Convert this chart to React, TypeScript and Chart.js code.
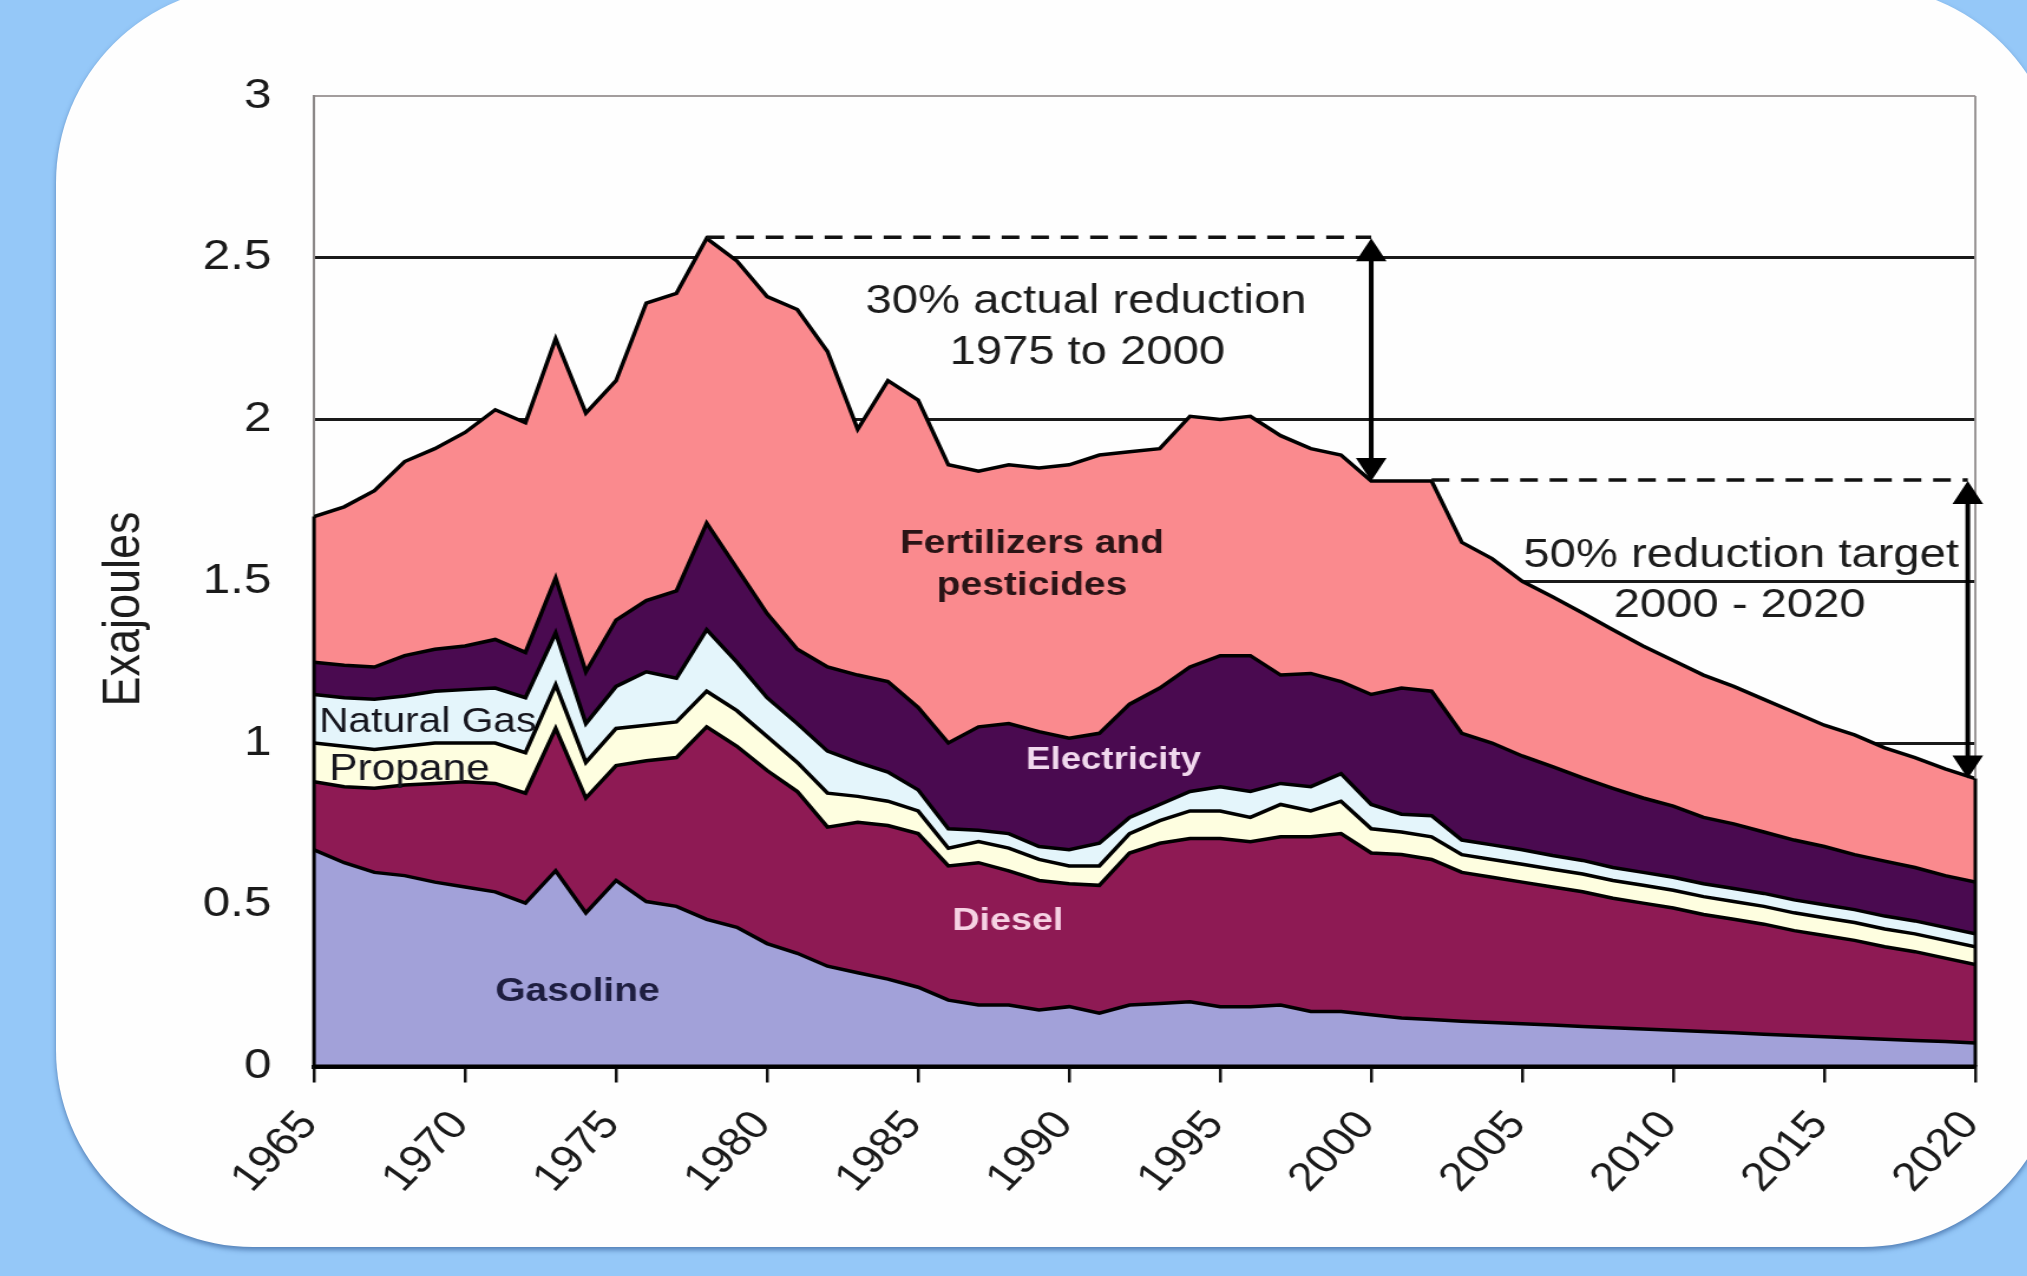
import React, { useEffect, useRef } from "react";
import { Chart, registerables } from "chart.js";

Chart.register(...registerables);

// ---------- data (Exajoules, stacked layers) ----------
const years = [
  1965, 1966, 1967, 1968, 1969, 1970, 1971, 1972, 1973, 1974,
  1975, 1976, 1977, 1978, 1979, 1980, 1981, 1982, 1983, 1984,
  1985, 1986, 1987, 1988, 1989, 1990, 1991, 1992, 1993, 1994,
  1995, 1996, 1997, 1998, 1999, 2000, 2001, 2002, 2003, 2004,
  2005, 2006, 2007, 2008, 2009, 2010, 2011, 2012, 2013, 2014,
  2015, 2016, 2017, 2018, 2019, 2020,
];

const gasoline = [
  0.67, 0.63, 0.6, 0.59, 0.57, 0.555, 0.54, 0.505, 0.605, 0.475,
  0.575, 0.51, 0.495, 0.455, 0.43, 0.38, 0.35, 0.31, 0.29, 0.27,
  0.245, 0.205, 0.19, 0.19, 0.175, 0.185, 0.165, 0.19, 0.195, 0.2,
  0.185, 0.185, 0.19, 0.17, 0.17, 0.16, 0.15, 0.145, 0.14, 0.136,
  0.132, 0.128, 0.124, 0.12, 0.116, 0.112, 0.108, 0.104, 0.1, 0.096,
  0.092, 0.088, 0.084, 0.08, 0.077, 0.073,
];

const diesel = [
  0.21, 0.235, 0.26, 0.28, 0.305, 0.325, 0.335, 0.34, 0.44, 0.355,
  0.355, 0.435, 0.46, 0.595, 0.56, 0.535, 0.5, 0.43, 0.465, 0.475,
  0.475, 0.415, 0.44, 0.415, 0.4, 0.38, 0.395, 0.47, 0.495, 0.505,
  0.52, 0.51, 0.52, 0.54, 0.55, 0.5, 0.505, 0.495, 0.46, 0.449,
  0.438, 0.427, 0.416, 0.4, 0.389, 0.378, 0.362, 0.351, 0.34, 0.324,
  0.313, 0.302, 0.286, 0.275, 0.258, 0.242,
];

const propane = [
  0.12, 0.125, 0.12, 0.12, 0.125, 0.12, 0.125, 0.125, 0.135, 0.11,
  0.115, 0.11, 0.11, 0.11, 0.11, 0.105, 0.09, 0.105, 0.08, 0.075,
  0.07, 0.055, 0.065, 0.07, 0.065, 0.055, 0.06, 0.06, 0.07, 0.085,
  0.085, 0.075, 0.1, 0.08, 0.1, 0.075, 0.07, 0.07, 0.055, 0.055,
  0.055, 0.055, 0.055, 0.055, 0.055, 0.055, 0.055, 0.055, 0.055, 0.055,
  0.055, 0.055, 0.055, 0.055, 0.055, 0.055,
];

const naturalGas = [
  0.15, 0.15, 0.155, 0.155, 0.16, 0.165, 0.17, 0.17, 0.16, 0.12,
  0.13, 0.165, 0.135, 0.19, 0.15, 0.12, 0.12, 0.13, 0.105, 0.09,
  0.065, 0.06, 0.035, 0.045, 0.04, 0.05, 0.07, 0.05, 0.05, 0.06,
  0.075, 0.08, 0.065, 0.075, 0.085, 0.075, 0.055, 0.065, 0.045, 0.045,
  0.045, 0.042, 0.042, 0.04, 0.04, 0.04, 0.04, 0.04, 0.04, 0.04,
  0.04, 0.04, 0.04, 0.04, 0.04, 0.04,
];

const electricity = [
  0.1, 0.1, 0.1, 0.125, 0.13, 0.135, 0.15, 0.14, 0.17, 0.16,
  0.205, 0.22, 0.27, 0.33, 0.29, 0.26, 0.23, 0.26, 0.27, 0.28,
  0.255, 0.265, 0.32, 0.34, 0.355, 0.345, 0.34, 0.35, 0.36, 0.385,
  0.405, 0.42, 0.335, 0.35, 0.285, 0.34, 0.39, 0.385, 0.33, 0.315,
  0.29, 0.275, 0.255, 0.245, 0.23, 0.22, 0.205, 0.2, 0.19, 0.185,
  0.18, 0.17, 0.17, 0.165, 0.16, 0.16,
];

const fertilizers = [
  0.45, 0.49, 0.545, 0.6, 0.62, 0.66, 0.71, 0.71, 0.74, 0.8,
  0.74, 0.92, 0.92, 0.88, 0.95, 0.98, 1.05, 0.975, 0.76, 0.93,
  0.95, 0.86, 0.79, 0.8, 0.815, 0.845, 0.86, 0.78, 0.74, 0.775,
  0.73, 0.74, 0.74, 0.695, 0.7, 0.66, 0.64, 0.65, 0.59, 0.57,
  0.54, 0.525, 0.51, 0.49, 0.47, 0.45, 0.44, 0.425, 0.41, 0.395,
  0.375, 0.37, 0.35, 0.34, 0.33, 0.32,
];

const seriesNames = ["Gasoline", "Diesel", "Propane", "Natural Gas", "Electricity", "Fertilizers and pesticides"];
const seriesValues = [gasoline, diesel, propane, naturalGas, electricity, fertilizers];
const seriesColors = ["#a2a1d9", "#8e1a54", "#fefee0", "#e4f5fb", "#4a0a50", "#fa8a8e"];

const yTickStep = 0.5;
const xTickStep = 5;

// annotation anchors (years)
const peakYear = 1978;
const baseYear = 2000;
const dash2StartYear = 2002;
const targetArrowYear = 2019.75;
const endYear = 2020;

// ---------- layout ----------
const PAGE_W = 2027;
const PAGE_H = 1276;
const STRETCH = 1.18;
const CANVAS_W = Math.round(PAGE_W / STRETCH);
const FONT = "'Liberation Sans', Arial, Helvetica, sans-serif";

type Txt = { text: string; year: number; value: number; font: string; color: string; align: CanvasTextAlign };
const areaLabels: Txt[] = [
  { text: "Fertilizers and", year: 1988.77, value: 1.615, font: `bold 33px ${FONT}`, color: "#2a1416", align: "center" },
  { text: "pesticides", year: 1988.77, value: 1.485, font: `bold 33px ${FONT}`, color: "#2a1416", align: "center" },
  { text: "Electricity", year: 1991.47, value: 0.946, font: `bold 31px ${FONT}`, color: "#f1d8ee", align: "center" },
  { text: "Diesel", year: 1987.97, value: 0.45, font: `bold 32px ${FONT}`, color: "#f6d2e3", align: "center" },
  { text: "Gasoline", year: 1973.72, value: 0.231, font: `bold 33px ${FONT}`, color: "#1e1e40", align: "center" },
  { text: "Natural Gas", year: 1965.17, value: 1.062, font: `34.5px ${FONT}`, color: "#16161e", align: "left" },
  { text: "Propane", year: 1965.5, value: 0.916, font: `36px ${FONT}`, color: "#16161e", align: "left" },
  { text: "30% actual reduction", year: 1990.56, value: 2.364, font: `40px ${FONT}`, color: "#1c1c1c", align: "center" },
  { text: "1975 to 2000", year: 1990.6, value: 2.205, font: `40px ${FONT}`, color: "#1c1c1c", align: "center" },
  { text: "50% reduction target", year: 2012.25, value: 1.578, font: `40px ${FONT}`, color: "#1c1c1c", align: "center" },
  { text: "2000 - 2020", year: 2012.2, value: 1.423, font: `40px ${FONT}`, color: "#1c1c1c", align: "center" },
];

function drawArrow(ctx: CanvasRenderingContext2D, x: number, yTop: number, yBot: number) {
  const hw = 13;
  const hh = 23;
  ctx.save();
  ctx.strokeStyle = "#000";
  ctx.fillStyle = "#000";
  ctx.lineWidth = 4;
  ctx.beginPath();
  ctx.moveTo(x, yTop + hh - 2);
  ctx.lineTo(x, yBot - hh + 2);
  ctx.stroke();
  ctx.beginPath();
  ctx.moveTo(x, yTop);
  ctx.lineTo(x - hw, yTop + hh);
  ctx.lineTo(x + hw, yTop + hh);
  ctx.closePath();
  ctx.fill();
  ctx.beginPath();
  ctx.moveTo(x, yBot);
  ctx.lineTo(x - hw, yBot - hh);
  ctx.lineTo(x + hw, yBot - hh);
  ctx.closePath();
  ctx.fill();
  ctx.restore();
}

function dashed(ctx: CanvasRenderingContext2D, x1: number, x2: number, y: number) {
  ctx.save();
  ctx.strokeStyle = "#111";
  ctx.lineWidth = 3.5;
  ctx.setLineDash([15, 10]);
  ctx.beginPath();
  ctx.moveTo(x1, y);
  ctx.lineTo(x2, y);
  ctx.stroke();
  ctx.restore();
}

const overlayPlugin = {
  id: "overlay",
  afterDatasetsDraw(chart: any) {
    const { ctx, chartArea } = chart;
    const xs = chart.scales.x;
    const ys = chart.scales.y;
    const totals = years.map((_, i) => seriesValues.reduce((s, arr) => s + arr[i], 0));
    const totalAt = (yr: number) => totals[years.indexOf(yr)];
    const X = (v: number) => xs.getPixelForValue(v);
    const Y = (v: number) => ys.getPixelForValue(v);

    ctx.save();
    // right gray frame above the area
    ctx.strokeStyle = "#9a9696";
    ctx.lineWidth = 2;
    ctx.beginPath();
    ctx.moveTo(X(endYear), chartArea.top);
    ctx.lineTo(X(endYear), Y(totalAt(endYear)));
    ctx.stroke();
    // black outline on the area sides and the baseline
    ctx.strokeStyle = "#000";
    ctx.lineWidth = 3;
    ctx.beginPath();
    ctx.moveTo(X(years[0]), Y(0));
    ctx.lineTo(X(years[0]), Y(totals[0]));
    ctx.moveTo(X(endYear), Y(0));
    ctx.lineTo(X(endYear), Y(totalAt(endYear)));
    ctx.stroke();
    ctx.lineWidth = 4;
    ctx.beginPath();
    ctx.moveTo(chartArea.left - 1, Y(0));
    ctx.lineTo(chartArea.right + 1, Y(0));
    ctx.stroke();
    ctx.restore();

    // reduction annotations
    const peakV = totalAt(peakYear);
    const baseV = totalAt(baseYear);
    const endV = totalAt(endYear);
    dashed(ctx, X(peakYear), X(baseYear), Y(peakV) - 1);
    drawArrow(ctx, X(baseYear), Y(peakV), Y(baseV));
    dashed(ctx, X(dash2StartYear), X(targetArrowYear), Y(baseV) - 1);
    drawArrow(ctx, X(targetArrowYear), Y(baseV), Y(endV));

    // text labels
    for (const t of areaLabels) {
      ctx.save();
      ctx.font = t.font;
      ctx.fillStyle = t.color;
      ctx.textAlign = t.align;
      ctx.textBaseline = "middle";
      ctx.fillText(t.text, X(t.year), Y(t.value));
      ctx.restore();
    }

    // y-axis title
    ctx.save();
    ctx.translate(125 / STRETCH, 609);
    ctx.rotate(-Math.PI / 2);
    ctx.font = `45px ${FONT}`;
    ctx.fillStyle = "#1c1c1c";
    ctx.textAlign = "center";
    ctx.textBaseline = "middle";
    ctx.fillText("Exajoules", 0, 0);
    ctx.restore();
  },
};

export default function App() {
  const ref = useRef<HTMLCanvasElement>(null);

  useEffect(() => {
    if (!ref.current) return;
    const datasets = seriesValues.map((vals, k) => ({
      label: seriesNames[k],
      data: vals.map((v, i) => ({ x: years[i], y: v })),
      backgroundColor: seriesColors[k],
      borderColor: "#000",
      borderWidth: 3.5,
      borderJoinStyle: "miter",
      fill: k === 0 ? "origin" : "-1",
      pointRadius: 0,
      tension: 0,
    }));

    const chart = new Chart(ref.current, {
      type: "line",
      data: { datasets },
      options: {
        responsive: false,
        animation: false,
        devicePixelRatio: 1,
        layout: { padding: { left: 0, right: 44, top: 96, bottom: 0 } },
        plugins: { legend: { display: false }, tooltip: { enabled: false }, title: { display: false } },
        scales: {
          x: {
            type: "linear",
            min: 1965,
            max: 2020,
            offset: false,
            grid: { drawOnChartArea: false, drawTicks: true, tickLength: 16, color: "#111", lineWidth: 2.5 },
            border: { display: true, color: "#111", width: 4 },
            ticks: {
              stepSize: xTickStep,
              autoSkip: false,
              minRotation: 50,
              maxRotation: 50,
              padding: 20,
              labelOffset: -4,
              color: "#1a1a1a",
              font: { family: FONT, size: 40 },
              callback: (v: any) => String(v),
            },
            afterFit: (s: any) => {
              s.height = PAGE_H - 1066.5;
              s.paddingLeft = 0;
              s.paddingRight = 0;
            },
          },
          y: {
            stacked: true,
            min: 0,
            max: 3,
            grid: {
              drawTicks: false,
              color: (c: any) => (c.tick && c.tick.value === 3 ? "#a39d9d" : "#1a1a1a"),
              lineWidth: (c: any) => (c.tick && c.tick.value === 3 ? 2 : 3),
            },
            border: { display: true, color: "#8c8888", width: 2 },
            ticks: {
              stepSize: yTickStep,
              padding: 36,
              color: "#1a1a1a",
              font: { family: FONT, size: 42 },
              callback: (v: any) => String(v),
            },
            afterFit: (s: any) => {
              s.width = 314 / STRETCH;
              s.paddingTop = 0;
              s.paddingBottom = 0;
            },
          },
        },
      } as any,
      plugins: [overlayPlugin],
    } as any);
    return () => chart.destroy();
  }, []);

  return (
    <div
      style={{
        position: "absolute",
        left: 0,
        top: 0,
        width: PAGE_W,
        height: PAGE_H,
        overflow: "hidden",
        background: "#95c8f8",
      }}
    >
      <div
        style={{
          position: "absolute",
          left: 56,
          top: -14,
          width: 2004,
          height: 1261,
          background: "#fefefe",
          borderRadius: 197,
          boxShadow: "0 3px 5px rgba(30,70,130,0.55)",
        }}
      />
      <div
        style={{
          position: "absolute",
          left: 0,
          top: 0,
          width: CANVAS_W,
          height: PAGE_H,
          transform: `scaleX(${STRETCH})`,
          transformOrigin: "0 0",
        }}
      >
        <canvas ref={ref} width={CANVAS_W} height={PAGE_H} style={{ display: "block", width: CANVAS_W, height: PAGE_H }} />
      </div>
    </div>
  );
}
